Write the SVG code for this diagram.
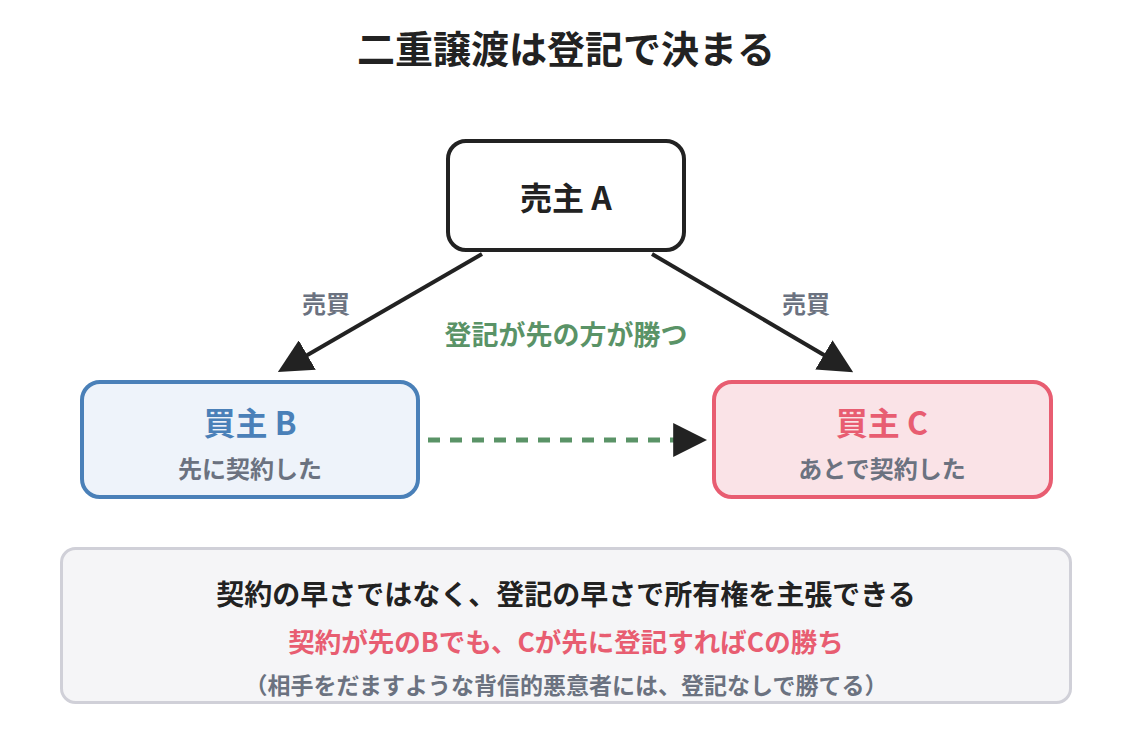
<svg xmlns="http://www.w3.org/2000/svg" width="1132" height="748" viewBox="0 0 1132 748">
<defs>
<style>
text{font-family:"Noto Sans CJK JP","Noto Sans",sans-serif;text-anchor:middle;dominant-baseline:central;font-weight:700}
.title{font-size:38px;fill:#222}
.name{font-size:32px}
.sub{font-size:24px;fill:#6b7280}
.lbl{font-size:24px;fill:#6b7280}
.edge{fill:none;stroke:#222;stroke-width:4}
</style>
<marker id="ah" viewBox="0 0 10 10" refX="7" refY="5" markerWidth="34" markerHeight="34" markerUnits="userSpaceOnUse" orient="auto">
<path d="M0,0 L10,5 L0,10 z" fill="#222"/>
</marker>
</defs>
<rect width="1132" height="748" fill="#fff"/>
<text class="title" x="566" y="46">二重譲渡は登記で決まる</text>
<g id="connectors">
<line class="edge" x1="482" y1="254" x2="286.7" y2="367" marker-end="url(#ah)"/>
<line class="edge" x1="652" y1="254" x2="844.4" y2="367" marker-end="url(#ah)"/>
<line x1="428" y1="440" x2="697" y2="440" stroke="#5a9367" stroke-width="5" stroke-dasharray="12 10" marker-end="url(#ah)"/>
<text class="lbl" x="326" y="302">売買</text>
<text class="lbl" x="806" y="302">売買</text>
<text x="566" y="333" style="font-size:27px;fill:#5a9367">登記が先の方が勝つ</text>
</g>
<g id="seller-a">
<rect x="448" y="141" width="236" height="109" rx="18" fill="#fff" stroke="#222" stroke-width="4"/>
<text class="name" x="566" y="196" fill="#222">売主 A</text>
</g>
<g id="buyer-b">
<rect x="82" y="382" width="336" height="115" rx="18" fill="#eef3fa" stroke="#4a80b8" stroke-width="4"/>
<text class="name" x="250" y="421" fill="#4a80b8">買主 B</text>
<text class="sub" x="250" y="467">先に契約した</text>
</g>
<g id="buyer-c">
<rect x="714" y="382" width="337" height="115" rx="18" fill="#fae3e7" stroke="#e85d71" stroke-width="4"/>
<text class="name" x="882" y="421" fill="#e85d71">買主 C</text>
<text class="sub" x="882" y="467">あとで契約した</text>
</g>
<g id="note">
<rect x="61.5" y="548.5" width="1009" height="154" rx="14" fill="#f5f5f7" stroke="#d0d0d8" stroke-width="3"/>
<text x="566" y="593" style="font-size:28px;fill:#222">契約の早さではなく、登記の早さで所有権を主張できる</text>
<text x="566" y="640" style="font-size:26.5px;fill:#e85d71">契約が先のBでも、Cが先に登記すればCの勝ち</text>
<text x="566" y="684" style="font-size:23px;fill:#6b7280">（相手をだますような背信的悪意者には、登記なしで勝てる）</text>
</g>
</svg>
